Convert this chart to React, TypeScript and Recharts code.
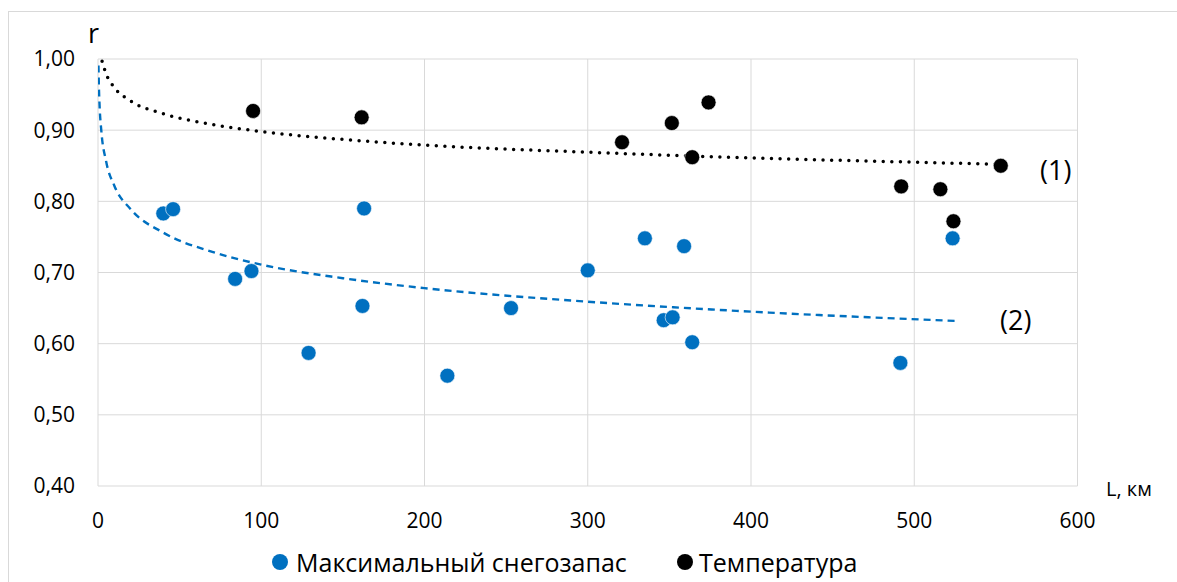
import React from "react";
import { ComposedChart, Scatter, Line, XAxis, YAxis, CartesianGrid } from "recharts";

// Максимальный снегозапас: distance L (km) vs correlation r
const snowL = [40, 46, 84, 94, 129, 162, 163, 214, 253, 300, 335, 346.5, 352, 359, 364, 491.5, 523.5];
const snowR = [0.783, 0.789, 0.691, 0.702, 0.587, 0.653, 0.790, 0.555, 0.650, 0.703, 0.748, 0.633, 0.637, 0.737, 0.602, 0.573, 0.748];

// Температура: distance L (km) vs correlation r
const tempL = [95, 161.5, 321, 351.5, 364, 374, 492, 516, 524, 553];
const tempR = [0.927, 0.918, 0.883, 0.910, 0.862, 0.939, 0.821, 0.817, 0.772, 0.850];

// Logarithmic trend curves, sampled along L
const trend1L = [2.5, 5, 10, 20, 40, 70, 100, 150, 200, 300, 400, 500, 553];
const trend1R = [0.997, 0.979, 0.960, 0.941, 0.923, 0.908, 0.898, 0.887, 0.879, 0.869, 0.861, 0.855, 0.852];
const trend2L = [0.3, 0.5, 1, 2, 5, 10, 20, 40, 70, 100, 150, 200, 300, 400, 525];
const trend2R = [0.991, 0.966, 0.933, 0.900, 0.856, 0.822, 0.789, 0.756, 0.729, 0.711, 0.692, 0.678, 0.659, 0.645, 0.632];

const xTicks = [0, 100, 200, 300, 400, 500, 600];
const yTicks = [0.4, 0.5, 0.6, 0.7, 0.8, 0.9, 1.0];

const seriesNames = ["Максимальный снегозапас", "Температура"];
const BLUE = "#0070C0";
const BLACK = "#000000";
const FONT = "'Open Sans', sans-serif";

const pairs = (xs: number[], ys: number[]) => xs.map((x, i) => ({ x, y: ys[i] }));
const snowData = pairs(snowL, snowR);
const tempData = pairs(tempL, tempR);
const trend1 = pairs(trend1L, trend1R);
const trend2 = pairs(trend2L, trend2R);

const dot = (color: string) => (props: any) => (
  <circle cx={props.cx} cy={props.cy} r={7.5} fill={color} stroke="#ffffff" strokeWidth={0.6} />
);

const fmtY = (v: number) => v.toFixed(2).replace(".", ",");

export default function App() {
  return (
    <div style={{ position: "absolute", left: 0, top: 0, width: 1177, height: 582, overflow: "hidden", background: "#fff", fontFamily: FONT }}>
      <div style={{ position: "absolute", left: 8, top: 11, width: 1200, height: 700, border: "1px solid #d9d9d9" }} />
      <div style={{ position: "absolute", left: 0, top: 0 }}>
        <ComposedChart width={1177} height={582} margin={{ top: 59, right: 99.5, bottom: 66, left: 38 }}>
          <CartesianGrid stroke="#d9d9d9" strokeWidth={1} />
          <XAxis
            type="number"
            dataKey="x"
            domain={[0, 600]}
            ticks={xTicks}
            axisLine={false}
            tickLine={false}
            tickSize={0}
            tickMargin={27}
            height={30}
            tick={{ fill: "#000", fontSize: 21, fontFamily: FONT }}
            allowDataOverflow
          />
          <YAxis
            type="number"
            dataKey="y"
            domain={[0.4, 1.0]}
            ticks={yTicks}
            axisLine={false}
            tickLine={false}
            tickSize={0}
            tickMargin={23}
            width={60}
            tickFormatter={fmtY}
            tick={{ fill: "#000", fontSize: 21, fontFamily: FONT }}
            allowDataOverflow
          />
          <Line data={trend2} dataKey="y" type="monotone" stroke={BLUE} strokeWidth={2.4} strokeDasharray="7 5" dot={false} isAnimationActive={false} />
          <Line data={trend1} dataKey="y" type="monotone" stroke={BLACK} strokeWidth={3.5} strokeDasharray="0 8.6" strokeLinecap="round" dot={false} isAnimationActive={false} />
          <Scatter name={seriesNames[0]} data={snowData} fill={BLUE} shape={dot(BLUE)} isAnimationActive={false} />
          <Scatter name={seriesNames[1]} data={tempData} fill={BLACK} shape={dot(BLACK)} isAnimationActive={false} />
        </ComposedChart>
      </div>

      <div style={{ position: "absolute", left: 88, top: 18, fontSize: 27, lineHeight: "30px", color: "#000" }}>r</div>
      <div style={{ position: "absolute", left: 1106, top: 474, fontSize: 20, lineHeight: "30px", color: "#000" }}>L, км</div>
      <div style={{ position: "absolute", left: 1040, top: 152, fontSize: 27, lineHeight: "36px", color: "#000" }}>(1)</div>
      <div style={{ position: "absolute", left: 1000, top: 302, fontSize: 27, lineHeight: "36px", color: "#000" }}>(2)</div>

      {/* legend */}
      <div style={{ position: "absolute", left: 272, top: 545, height: 34, display: "flex", alignItems: "center", fontSize: 25, color: "#000" }}>
        <span style={{ display: "inline-block", width: 16, height: 16, borderRadius: 8, background: BLUE, marginRight: 8 }} />
        <span>{seriesNames[0]}</span>
      </div>
      <div style={{ position: "absolute", left: 677, top: 545, height: 34, display: "flex", alignItems: "center", fontSize: 25, color: "#000" }}>
        <span style={{ display: "inline-block", width: 16, height: 16, borderRadius: 8, background: BLACK, marginRight: 6 }} />
        <span>{seriesNames[1]}</span>
      </div>
    </div>
  );
}
